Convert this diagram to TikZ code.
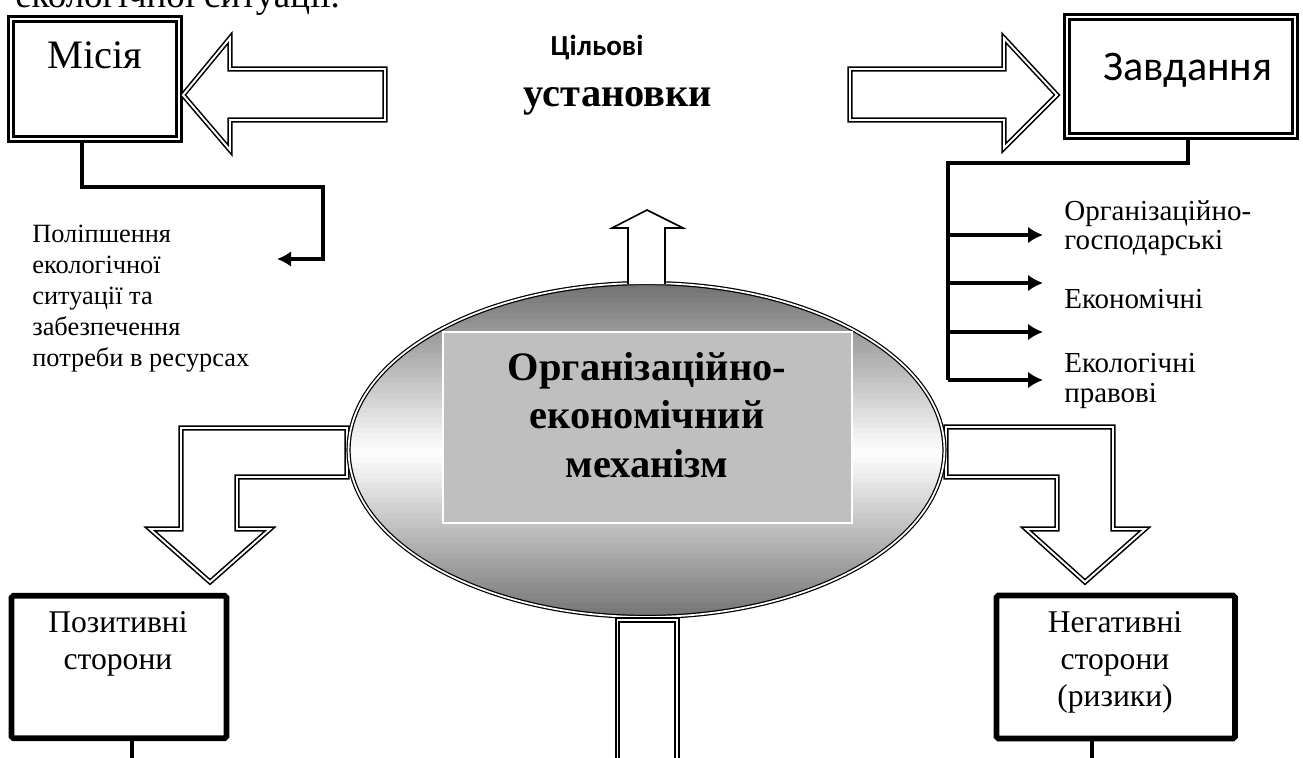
\documentclass[tikz,border=0pt]{standalone}
\usepackage{fontspec}
\setmainfont{Liberation Serif}
\newfontfamily\calfont{Carlito}
\usetikzlibrary{calc,arrows.meta,shapes.geometric}

\begin{document}
\begin{tikzpicture}[x=0.02cm,y=-0.02cm,
    dbox/.style={draw,double,line width=1.3pt,double distance=1.6pt,fill=white,inner sep=0pt},
    hollow/.style={draw,double,line width=0.9pt,double distance=1.1pt,fill=white,line join=miter},
    conn/.style={line width=2pt},
    tbox/.style={draw,line width=3.2pt,rounded corners=1pt,inner sep=0pt},
    txt/.style={inner sep=0pt,align=left}]
              \useasboundingbox (0,0) rectangle (1303,758);
              % text cut at the top
              \node[anchor=base west,inner sep=0pt,font=\fontsize{21}{24}\selectfont] (top) at (15,7) {екологічної ситуації.};
              % Mission and Tasks
              \node[dbox,minimum width=3.36cm,minimum height=2.4cm] (m) at (95,79) {};
              \node[anchor=base,font=\rmfamily\fontsize{23}{26}\selectfont] (mt) at (95,68) {Місія};
              \node[dbox,minimum width=4.56cm,minimum height=2.38cm] (z) at (1181,76.5) {};
              \node[anchor=base,font=\calfont\fontsize{24}{27}\selectfont] (zt) at (1188,80) {Завдання};
              \draw[hollow] (385,69) -- (230,69) -- (230,38) -- (183,95) -- (230,150) -- (230,120) -- (385,120) -- cycle;
              \draw[hollow] (850,69) -- (1004,69) -- (1004,38) -- (1057,95) -- (1004,148) -- (1004,120) -- (850,120) -- cycle;
              \node[anchor=base,font=\calfont\bfseries\fontsize{16.5}{19}\selectfont] (c1) at (597,55) {Цільові};
              \node[anchor=base,font=\bfseries\fontsize{23}{26}\selectfont] (c2) at (618,106) {установки};
              % goal of the mission
              \coordinate (pm) at (277,259);
              \draw[conn,-{Latex[length=8pt,width=9pt]}] ([xshift=-0.26cm]m.south) |- (323,187) |- (pm);
              \node[txt,anchor=north west,font=\fontsize{15}{17.6}\selectfont] (pt) at (32,225)
                {Поліпшення\\екологічної\\ситуації та\\забезпечення\\потреби в ресурсах};
              % kinds of tasks
              \coordinate (k) at (948,163);
              \coordinate (kd) at (948,380);
              \draw[conn] ([xshift=0.14cm]z.south) |- (k) -- (kd);
              \foreach \y in {235,283,332,380}
                \draw[conn,-{Latex[length=8.5pt,width=9.5pt]}] (k |- 0,\y) -- (1043,\y);
              \node[txt,anchor=north west,font=\fontsize{16.5}{16.5}\selectfont] (t1) at (1064,200) {Організаційно-\\господарські};
              \node[txt,anchor=north west,font=\fontsize{16.5}{16.5}\selectfont] (t2) at (1064,289) {Економічні};
              \node[txt,anchor=north west,font=\fontsize{16.5}{17}\selectfont] (t3) at (1064,353) {Екологічні\\правові};
              % side arrows
              \draw[hollow] (347,428) -- (181,428) -- (181,529) -- (150,529) -- (210,582) -- (270,529) -- (237,529) -- (237,477) -- (347,477) -- cycle;
              \draw[hollow] (946,427) -- (1113,427) -- (1113,529) -- (1145,529) -- (1085,582) -- (1026,529) -- (1057,529) -- (1057,477) -- (946,477) -- cycle;
              % mechanism (grey to white to grey, in strips)
              \begin{scope}
                \clip (646.5,450) ellipse [x radius=5.96cm,y radius=3.34cm];
                \foreach \i in {0,...,67} {
                  \pgfmathsetmacro\yy{283+5*\i}
                  \pgfmathsetmacro\pc{55*abs(2*(\yy-283)/334-1)}
                  \fill[black!\pc] (340,\yy) rectangle (955,\yy+5.6);
                }
              \end{scope}
              \node[ellipse,draw,double,line width=0.7pt,double distance=1pt,minimum width=11.92cm,minimum height=6.68cm] (e) at (646.5,450) {};
              \node[fill=black!25,draw=white,line width=1.2pt,minimum width=8.18cm,minimum height=3.82cm] (r) at (647.5,427.5) {};
              \node[inner sep=0pt,align=center,font=\bfseries\fontsize{23}{27.6}\selectfont] (et) at (647,415)
                {Організаційно-\\економічний\\механізм};
              \draw[fill=white,line width=0.9pt,line join=miter] (628,284) -- (628,228) -- (612,228) -- (647,210) -- (683,228) -- (665,228) -- (665,284);
              \draw[hollow] (617.5,762) -- (617.5,620) -- (677,620) -- (677,762);
              % sides
              \node[tbox,minimum width=4.3cm,minimum height=2.85cm] (ps) at (119,667) {};
              \node[anchor=north,align=center,inner sep=0pt,font=\fontsize{18}{21}\selectfont] (pst) at (118,611) {Позитивні\\сторони};
              \node[tbox,minimum width=4.77cm,minimum height=2.86cm] (ns) at (1115.75,667) {};
              \node[anchor=north,align=center,inner sep=0pt,font=\fontsize{18}{21}\selectfont] (nst) at (1115,611) {Негативні\\сторони\\(ризики)};
              \coordinate (pe) at (132,762);
              \coordinate (ne) at (1092,762);
              \draw[line width=2.2pt] (ps.south -| pe) -- (pe);
              \draw[line width=2.2pt] (ns.south -| ne) -- (ne);
            \end{tikzpicture}
\end{document}
